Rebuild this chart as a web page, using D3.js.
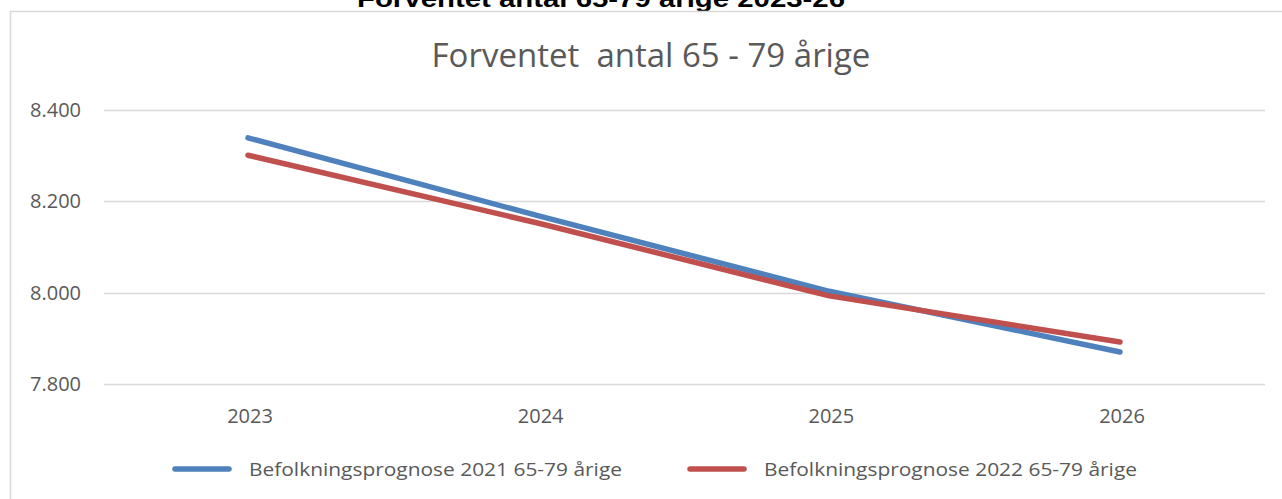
<!DOCTYPE html>
<html>
<head>
<meta charset="utf-8">
<script src="https://cdn.jsdelivr.net/npm/d3@7"></script>
<style>
  html, body { margin: 0; padding: 0; background: #fff; }
  svg { display: block; }
</style>
</head>
<body>
<svg id="chart" width="1282" height="499"></svg>
<script>
const categories = ["2023", "2024", "2025", "2026"];
const series2021 = [8339, 8168, 8003, 7870];
const series2022 = [8301, 8152, 7993, 7892];
const seriesNames = ["Befolkningsprognose 2021 65-79 årige", "Befolkningsprognose 2022 65-79 årige"];
const yTicks = [7800, 8000, 8200, 8400];
const pageTitle = "Forventet antal 65-79 årige 2023-26";
const chartTitle = "Forventet  antal 65 - 79 årige";

const svg = d3.select("#chart");
const W = 1282, H = 499;
const font = "'Open Sans', sans-serif";
const grey = "#595959";
const colors = ["#4f81bd", "#c0504d"];

// outer page title (cropped at top, as in the source)
svg.append("text")
  .attr("x", 601).attr("y", 7)
  .attr("text-anchor", "middle")
  .attr("font-family", "'Liberation Sans', Arial, sans-serif")
  .attr("font-weight", "bold")
  .attr("font-size", 24)
  .attr("textLength", 488)
  .attr("lengthAdjust", "spacingAndGlyphs")
  .attr("fill", "#000")
  .text(pageTitle);

// chart frame
svg.append("path")
  .attr("d", `M10.5,${H} L10.5,11.5 L${W},11.5`)
  .attr("fill", "none")
  .attr("stroke", "#d9d9d9")
  .attr("stroke-width", 1.5);

const x = d3.scalePoint().domain(categories).range([248, 1120]).padding(0);
const y = d3.scaleLinear().domain([7800, 8400]).range([384, 110]);

// gridlines
svg.append("g")
  .selectAll("line")
  .data(yTicks)
  .join("line")
  .attr("x1", 104).attr("x2", 1265)
  .attr("y1", d => Math.round(y(d)) + 0.5)
  .attr("y2", d => Math.round(y(d)) + 0.5)
  .attr("stroke", "#d9d9d9")
  .attr("stroke-width", 1.3);

// y-axis labels
const fmt = d => d3.format(",")(d).replace(",", ".");
svg.append("g")
  .selectAll("text")
  .data(yTicks)
  .join("text")
  .attr("x", 81)
  .attr("y", d => y(d) + 7)
  .attr("text-anchor", "end")
  .attr("font-family", font)
  .attr("font-size", 20)
  .attr("fill", grey)
  .text(fmt);

// x-axis labels
svg.append("g")
  .selectAll("text")
  .data(categories)
  .join("text")
  .attr("x", d => x(d) + 2)
  .attr("y", 423)
  .attr("text-anchor", "middle")
  .attr("font-family", font)
  .attr("font-size", 20)
  .attr("fill", grey)
  .text(d => d);

// chart title
svg.append("text")
  .attr("x", 651).attr("y", 67)
  .attr("text-anchor", "middle")
  .attr("font-family", font)
  .attr("font-size", 33)
  .attr("fill", grey)
  .attr("xml:space", "preserve")
  .style("white-space", "pre")
  .text(chartTitle);

// lines
const line = d3.line().x((d, i) => x(categories[i])).y(d => y(d));
[series2021, series2022].forEach((s, i) => {
  svg.append("path")
    .datum(s)
    .attr("d", line)
    .attr("fill", "none")
    .attr("stroke", colors[i])
    .attr("stroke-width", 5.5)
    .attr("stroke-linecap", "round")
    .attr("stroke-linejoin", "round");
});

// legend
const legendX = [173, 688];
seriesNames.forEach((name, i) => {
  const g = svg.append("g");
  g.append("line")
    .attr("x1", legendX[i] + 2).attr("x2", legendX[i] + 56)
    .attr("y1", 469).attr("y2", 469)
    .attr("stroke", colors[i])
    .attr("stroke-width", 5.5)
    .attr("stroke-linecap", "round");
  g.append("text")
    .attr("x", legendX[i] + 76)
    .attr("y", 476)
    .attr("font-family", font)
    .attr("font-size", 19)
    .attr("textLength", 373)
    .attr("lengthAdjust", "spacingAndGlyphs")
    .attr("fill", grey)
    .text(name);
});
</script>
</body>
</html>
